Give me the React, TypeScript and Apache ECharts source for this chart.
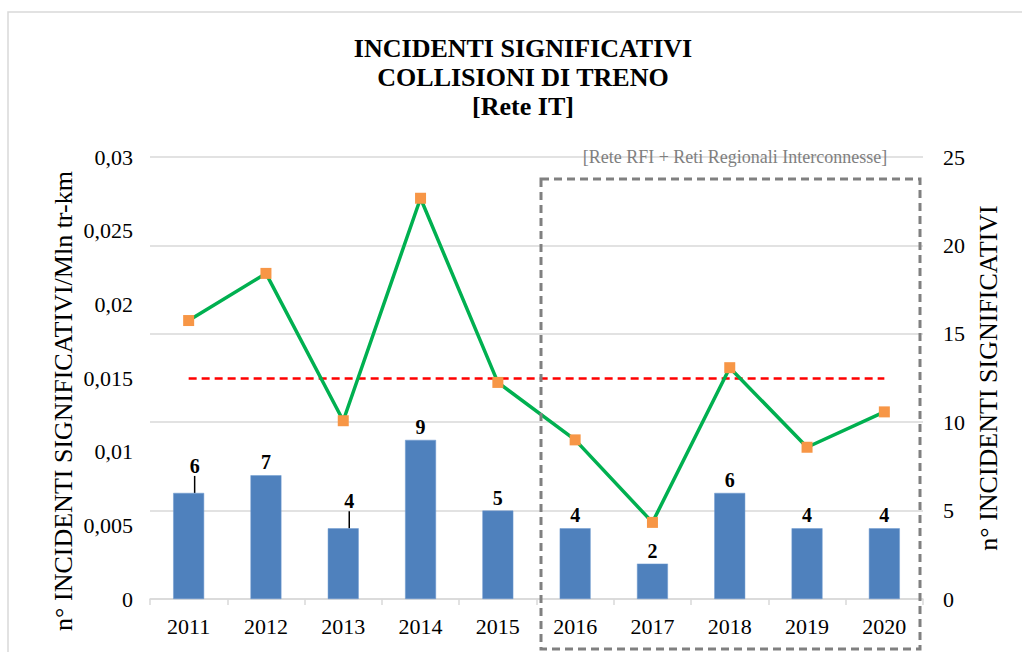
import React, { useEffect, useRef } from "react";
import * as echarts from "echarts";

const years = ["2011", "2012", "2013", "2014", "2015", "2016", "2017", "2018", "2019", "2020"];
const incidents = [6, 7, 4, 9, 5, 4, 2, 6, 4, 4];
const ratePerMlnTrKm = [0.0189, 0.0221, 0.0121, 0.0272, 0.0147, 0.0108, 0.0052, 0.0157, 0.0103, 0.0127];
const averageRate = [0.01497, 0.01497, 0.01497, 0.01497, 0.01497, 0.01497, 0.01497, 0.01497, 0.01497, 0.01497];
const titleLines = ["INCIDENTI SIGNIFICATIVI", "COLLISIONI DI TRENO", "[Rete IT]"];
const leftAxisName = "n° INCIDENTI SIGNIFICATIVI/Mln tr-km";
const rightAxisName = "n° INCIDENTI SIGNIFICATIVI";
const boxNote = "[Rete RFI + Reti Regionali Interconnesse]";
const shiftedLabels = [0, 2];

const FONT = "Liberation Serif";

export default function App() {
  const ref = useRef<HTMLDivElement>(null);

  useEffect(() => {
    if (!ref.current) return;
    const chart = echarts.init(ref.current, null, { renderer: "svg" });
    const barData = incidents.map((v, i) =>
      shiftedLabels.indexOf(i) >= 0
        ? { value: v, labelLine: { show: true, lineStyle: { color: "#000", width: 1.5 } } }
        : { value: v }
    );
    const option: any = {
      animation: false,
      backgroundColor: "#ffffff",
      textStyle: { fontFamily: FONT },
      grid: { left: 150, right: 99, top: 157, bottom: 53, containLabel: false },
      xAxis: {
        type: "category",
        data: years,
        axisLine: { lineStyle: { color: "#d9d9d9", width: 1.5 } },
        axisTick: { show: true, length: 6, lineStyle: { color: "#d9d9d9", width: 1.5 } },
        axisLabel: { color: "#000", fontSize: 22, fontFamily: FONT, margin: 16 },
      },
      yAxis: [
        {
          type: "value",
          min: 0,
          max: 0.03,
          interval: 0.005,
          axisLine: { show: false },
          axisTick: { show: false },
          splitLine: { show: false },
          axisLabel: {
            color: "#000",
            fontSize: 22,
            fontFamily: FONT,
            margin: 17,
            formatter: (v: number) => String(Number(v.toFixed(3))).replace(".", ","),
          },
        },
        {
          type: "value",
          min: 0,
          max: 25,
          interval: 5,
          position: "right",
          axisLine: { show: false },
          axisTick: { show: false },
          splitLine: { show: true, lineStyle: { color: "#d9d9d9", width: 1.5 } },
          axisLabel: { color: "#000", fontSize: 22, fontFamily: FONT, margin: 20 },
        },
      ],
      series: [
        {
          type: "bar",
          yAxisIndex: 1,
          data: barData,
          barWidth: "40%",
          itemStyle: { color: "#4f81bd", borderColor: "#6f9ad0", borderWidth: 0.5 },
          label: {
            show: true,
            position: "top",
            distance: 3,
            color: "#000",
            fontSize: 20,
            fontWeight: "bold",
            fontFamily: FONT,
          },
          labelLine: { show: false },
          labelLayout: (params: any) =>
            shiftedLabels.indexOf(params.dataIndex) >= 0 ? { dx: 6, dy: -14 } : {},
          z: 2,
        },
        {
          type: "line",
          yAxisIndex: 0,
          data: averageRate,
          symbol: "none",
          lineStyle: { color: "#ff0000", width: 2.5, type: [8, 5] },
          z: 3,
        },
        {
          type: "line",
          yAxisIndex: 0,
          data: ratePerMlnTrKm,
          symbol: "rect",
          symbolSize: 11,
          itemStyle: { color: "#f79646" },
          lineStyle: { color: "#00b050", width: 3.5 },
          z: 4,
        },
      ],
      graphic: [
        {
          type: "rect",
          shape: { x: 8, y: 12, width: 1040, height: 660 },
          style: { fill: "none", stroke: "#d9d9d9", lineWidth: 1.5 },
          silent: true,
          z: 0,
        },
        ...titleLines.map((t, i) => ({
          type: "text",
          x: 523,
          y: 48 + i * 29,
          style: {
            text: t,
            fontFamily: FONT,
            fontSize: 26,
            fontWeight: "bold",
            fill: "#000",
            textAlign: "center",
            textVerticalAlign: "middle",
          },
        })),
        {
          type: "text",
          x: 735,
          y: 157,
          style: {
            text: boxNote,
            fontFamily: FONT,
            fontSize: 18,
            fill: "#7f7f7f",
            textAlign: "center",
            textVerticalAlign: "middle",
          },
          z: 10,
        },
        {
          type: "rect",
          shape: { x: 541, y: 179, width: 379, height: 470 },
          style: { fill: "none", stroke: "#808080", lineWidth: 3, lineDash: [8, 5] },
          silent: true,
          z: 10,
        },
        {
          type: "text",
          x: 63,
          y: 401,
          rotation: Math.PI / 2,
          style: {
            text: leftAxisName,
            fontFamily: FONT,
            fontSize: 26,
            fill: "#000",
            textAlign: "center",
            textVerticalAlign: "middle",
          },
        },
        {
          type: "text",
          x: 988,
          y: 378,
          rotation: Math.PI / 2,
          style: {
            text: rightAxisName,
            fontFamily: FONT,
            fontSize: 26,
            fill: "#000",
            textAlign: "center",
            textVerticalAlign: "middle",
          },
        },
      ],
    };
    chart.setOption(option);
    return () => chart.dispose();
  }, []);

  return (
    <div
      ref={ref}
      style={{ position: "absolute", left: 0, top: 0, width: 1022, height: 652 }}
    />
  );
}
